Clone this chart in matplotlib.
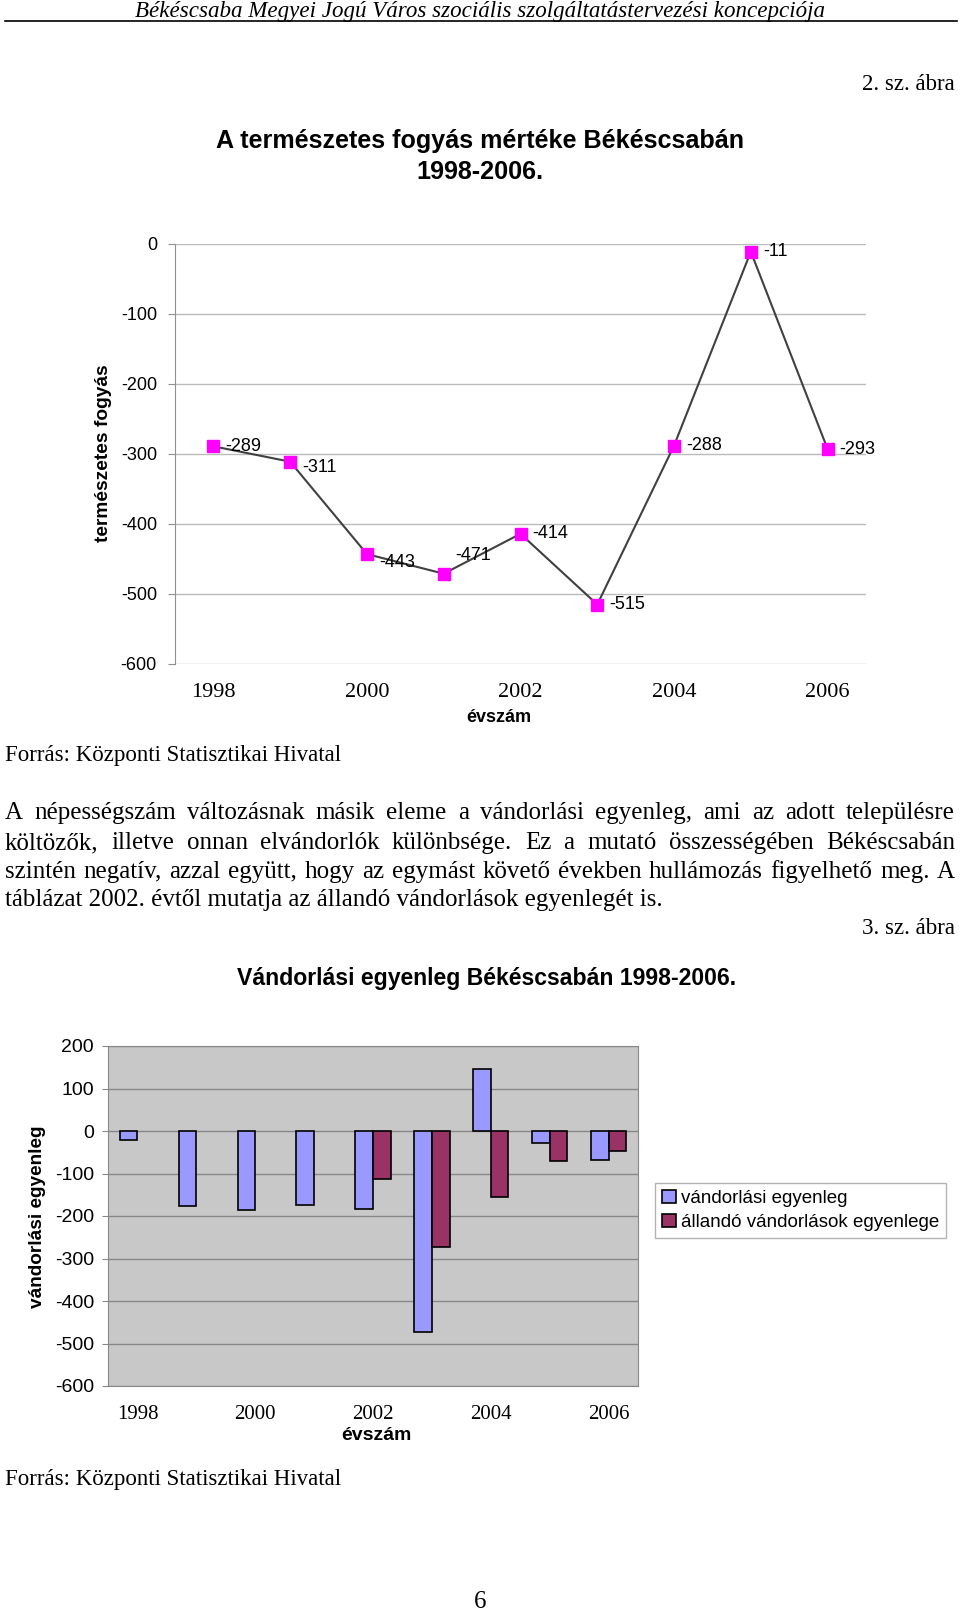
import numpy as np
import matplotlib.pyplot as plt
from matplotlib.lines import Line2D

plt.rcParams['axes.unicode_minus'] = False

W, H = 960, 1613
SANS = 'Liberation Sans'
SERIF = 'Liberation Serif'

# ############################################################
# Adatok
years = list(range(1998, 2007))
fogyas = [-289, -311, -443, -471, -414, -515, -288, -11, -293]
label_dy = [0, 6, 8, -18, 0, 0, 0, 0, 0]   # címkék függőleges eltolása (px)
tick_years = ['1998', '2000', '2002', '2004', '2006']

vandorlasi = [-21, -176, -185, -174, -183, -474, 145, -29, -69]
allando_years = [2002, 2003, 2004, 2005, 2006]
allando = [-113, -272, -155, -71, -47]

header = 'Békéscsaba Megyei Jogú Város szociális szolgáltatástervezési koncepciója'
body = ['A népességszám változásnak másik eleme a vándorlási egyenleg, ami az adott településre',
        'költözők, illetve onnan elvándorlók különbsége. Ez a mutató összességében Békéscsabán',
        'szintén negatív, azzal együtt, hogy az egymást követő években hullámozás figyelhető meg. A',
        'táblázat 2002. évtől mutatja az állandó vándorlások egyenlegét is.']
forras = 'Forrás: Központi Statisztikai Hivatal'

fig = plt.figure(figsize=(W / 100, H / 100), dpi=100)
fig.patch.set_facecolor('white')
rend = fig.canvas.get_renderer()


def fx(x):
    return x / W


def fy(y):
    return 1 - y / H


def fit(x, y, s, width, vertical=False, **kw):
    # szöveg méretezése a megadott pixelszélességre
    t = fig.text(fx(x), fy(y), s, fontsize=10, **kw)
    bb = t.get_window_extent(rend)
    size = bb.height if vertical else bb.width
    t.set_fontsize(10 * width / size)
    return t


# ############################################################
# Oldal szövegei
fit(480, 12, header, 691, family=SERIF, style='italic', ha='center', va='center')
fig.add_artist(Line2D([fx(5), fx(957)], [fy(21), fy(21)], color='black', lw=1.2))
fit(955, 85, '2. sz. ábra', 93, family=SERIF, ha='right', va='center')
t1 = fit(480, 141, 'A természetes fogyás mértéke Békéscsabán', 530,
         family=SANS, weight='bold', ha='center', va='center')
fig.text(fx(480), fy(172), '1998-2006.', fontsize=t1.get_fontsize(),
         family=SANS, weight='bold', ha='center', va='center')
src = fit(5, 756, forras, 338, family=SERIF, ha='left', va='center')
fig.text(fx(5), fy(1479), forras, fontsize=src.get_fontsize(),
         family=SERIF, ha='left', va='center')

# bekezdés sorkizárva
last = fit(5, 900, body[3], 661, family=SERIF, ha='left', va='center')
bfs = last.get_fontsize()
for line, yy in zip(body[:3], [813, 843, 872]):
    words = line.split()
    txts = [fig.text(0, fy(yy), w, fontsize=bfs, family=SERIF, ha='left', va='center')
            for w in words]
    widths = [t.get_window_extent(rend).width for t in txts]
    gap = (955 - 5 - sum(widths)) / (len(words) - 1)
    xx = 5
    for t, w in zip(txts, widths):
        t.set_x(fx(xx))
        xx += w + gap

fit(955, 928, '3. sz. ábra', 93, family=SERIF, ha='right', va='center')
fit(487, 979, 'Vándorlási egyenleg Békéscsabán 1998-2006.', 502,
    family=SANS, weight='bold', ha='center', va='center')
fig.text(fx(480), fy(1602), '6', fontsize=bfs, family=SERIF, ha='center', va='center')

# ############################################################
# 1. ábra: természetes fogyás
ax1 = fig.add_axes([fx(175), fy(664), (866 - 175) / W, (664 - 244) / H])
xpos = np.arange(len(years)) + 0.5
ax1.plot(xpos, fogyas, color='#404040', lw=1.5, marker='s', ms=8.5,
         mfc='#FF00FF', mec='#FF00FF', zorder=3)
for xp, v, dy in zip(xpos, fogyas, label_dy):
    ax1.annotate(str(v), (xp, v), xytext=(12, -dy), textcoords='offset pixels',
                 ha='left', va='center', fontsize=13, family=SANS)
ax1.set_xlim(0, 9)
ax1.set_ylim(-600, 0)
ax1.set_yticks(range(-600, 1, 100))
ax1.grid(axis='y', color='#BBBBBB', lw=1)
ax1.set_axisbelow(True)
for s in ['top', 'right', 'bottom']:
    ax1.spines[s].set_visible(False)
ax1.spines['left'].set_color('#909090')
ax1.set_xticks(xpos[::2])
ax1.set_xticklabels(tick_years, family=SERIF, fontsize=16)
ax1.tick_params(axis='x', length=0, pad=14)
ax1.tick_params(axis='y', length=5, color='#909090', pad=8, labelsize=13)
for lab in ax1.get_yticklabels():
    lab.set_family(SANS)
fig.text(fx(499), fy(717), 'évszám', fontsize=13, family=SANS, weight='bold',
         ha='center', va='center')
fit(103, 453, 'természetes fogyás', 178, vertical=True, rotation=90,
    family=SANS, weight='bold', ha='center', va='center')

# ############################################################
# 2. ábra: vándorlási egyenleg
ax2 = fig.add_axes([fx(108), fy(1386), (638 - 108) / W, (1386 - 1046) / H])
ax2.set_facecolor('#C8C8C8')
bw = 0.3
xb = np.arange(len(years)) + 0.5
xa = np.array([years.index(y) for y in allando_years]) + 0.5
ax2.bar(xb - bw / 2, vandorlasi, bw, color='#9999FF', edgecolor='black', lw=1.2,
        label='vándorlási egyenleg', zorder=3)
ax2.bar(xa + bw / 2, allando, bw, color='#993366', edgecolor='black', lw=1.2,
        label='állandó vándorlások egyenlege', zorder=3)
ax2.set_xlim(0, 9)
ax2.set_ylim(-600, 200)
ax2.set_yticks(range(-600, 201, 100))
ax2.grid(axis='y', color='#888888', lw=1)
ax2.set_axisbelow(True)
for s in ax2.spines.values():
    s.set_color('#888888')
ax2.set_xticks(xb[::2])
ax2.set_xticklabels(tick_years, family=SERIF, fontsize=15)
ax2.tick_params(axis='x', length=0, pad=14)
ax2.tick_params(axis='y', length=4, color='#888888', pad=6, labelsize=14)
for lab in ax2.get_yticklabels():
    lab.set_family(SANS)
fig.text(fx(376), fy(1435), 'évszám', fontsize=14, family=SANS, weight='bold',
         ha='center', va='center')
fit(38, 1217, 'vándorlási egyenleg', 184, vertical=True, rotation=90,
    family=SANS, weight='bold', ha='center', va='center')
leg = ax2.legend(loc='upper left', bbox_to_anchor=(1.032, 0.597), fancybox=False,
                 edgecolor='#A0A0A0', prop={'family': SANS, 'size': 13.5},
                 handlelength=0.75, handleheight=0.75, handletextpad=0.3,
                 borderpad=0.35, labelspacing=0.35, borderaxespad=0)
leg.get_frame().set_linewidth(1)

fig.savefig('out.png', dpi=100, facecolor='white')
